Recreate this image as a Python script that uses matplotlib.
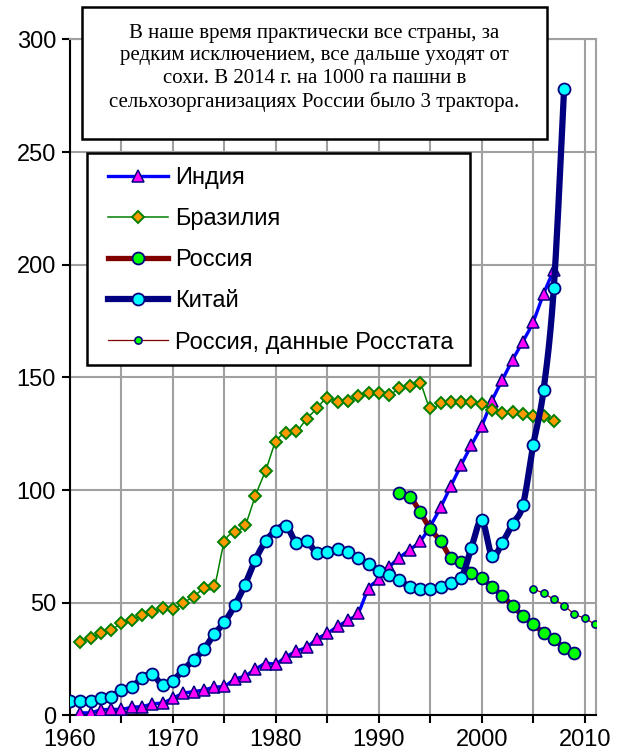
import numpy as np
import matplotlib
matplotlib.use("Agg")
import matplotlib.pyplot as plt
from matplotlib.patches import Rectangle
from matplotlib.lines import Line2D

plt.rcParams['font.family'] = ['Liberation Sans', 'DejaVu Sans']

# ---- data ----
india_years = list(range(1961, 2008))
india = [1.2, 1.2, 2.4, 2.7, 2.7, 3.6, 3.9, 5.1, 5.6, 7.6,
         9.8, 10.5, 11.3, 12.5, 13, 16, 17.5, 20.5, 23, 23,
         26, 28.5, 30.3, 34, 36.4, 39.5, 42.2, 45.6, 56.2, 60.4,
         65.8, 70, 73.5, 77.2, 84, 92.3, 101.8, 111.1, 120, 128.5,
         139.7, 148.9, 157.8, 165.9, 174.7, 187, 197.7]

brazil_years = list(range(1961, 2008))
brazil = [32.7, 34.2, 36.4, 37.9, 40.9, 42.3, 44.6, 45.8, 47.5, 47.1,
          50, 52.7, 56.4, 57.4, 76.8, 81.5, 84.5, 97.4, 108.6, 121.5,
          125.2, 126.2, 131.6, 136.3, 141, 139.2, 139.7, 141.8, 143.2, 143.2,
          142.2, 145.2, 146.2, 147.4, 136.3, 138.5, 139, 139, 139, 138.1,
          135.5, 134.4, 134.8, 133.6, 132.9, 132.9, 130.8]

russia_years = list(range(1992, 2010))
russia = [98.8, 97.1, 90.4, 82.7, 77.4, 70, 68.2, 63.3, 60.8, 57.1,
          53.1, 48.6, 44.1, 40.4, 36.7, 33.8, 30, 27.6]

china_years = list(range(1960, 2009))
china = [6.5, 6.5, 6.5, 7.6, 8.3, 11.3, 12.7, 16.5, 18.2, 13.5,
         15.4, 20.2, 24.6, 29.3, 36, 41.3, 48.8, 58, 69, 77.3,
         82, 84.1, 76.5, 77.3, 72, 72.7, 73.7, 72.7, 69.7, 67.2,
         64.2, 62.5, 60, 57.1, 56.1, 56.1, 57.1, 58.9, 60.8, 74.4,
         86.7, 70.8, 76.7, 85, 93.4, 120, 144.2, 189.6, 278]

rosstat_years = list(range(2005, 2012))
rosstat = [56.1, 54.2, 51.5, 48.7, 45, 43.1, 40.4]

labels = ["Индия", "Бразилия", "Россия", "Китай", "Россия, данные Росстата"]
note = ("В наше время практически все страны, за\n"
        "редким исключением, все дальше уходят от\n"
        "сохи. В 2014 г. на 1000 га пашни в\n"
        "сельхозорганизациях России было 3 трактора.")


def smooth(xs, ys, n=16):
    """Excel-like smoothed line (Catmull-Rom Bezier) through the data points."""
    x = np.asarray(xs, float)
    y = np.asarray(ys, float)
    px = np.concatenate([[x[0]], x, [x[-1]]])
    py = np.concatenate([[y[0]], y, [y[-1]]])
    outx, outy = [x[0]], [y[0]]
    t = np.linspace(0, 1, n + 1)[1:]
    for i in range(1, len(px) - 2):
        p0 = np.array([px[i], py[i]])
        p3 = np.array([px[i + 1], py[i + 1]])
        c1 = p0 + (np.array([px[i + 1], py[i + 1]]) - np.array([px[i - 1], py[i - 1]])) / 6
        c2 = p3 - (np.array([px[i + 2], py[i + 2]]) - np.array([px[i], py[i]])) / 6
        for tt in t:
            b = ((1 - tt) ** 3) * p0 + 3 * ((1 - tt) ** 2) * tt * c1 + 3 * (1 - tt) * tt ** 2 * c2 + tt ** 3 * p3
            outx.append(b[0])
            outy.append(b[1])
    return outx, outy


fig = plt.figure(figsize=(6.27, 7.53), dpi=100)
ax = fig.add_axes([70 / 627, 1 - 715.4 / 753, 526 / 627, 676 / 753])

ax.set_xlim(1960, 2011.1)
ax.set_ylim(0, 300)

styles = [
    # (years, values, line color, lw, marker, mfc, mec, ms, mew)
    (india_years, india, '#0000FF', 2.4, '^', '#FF00FF', '#000080', 9.3, 1.1),
    (brazil_years, brazil, '#008000', 1.1, 'D', '#FF9900', '#008000', 6.3, 1.4),
    (russia_years, russia, '#800000', 3.8, 'o', '#00FF00', '#000080', 8.6, 1.3),
    (china_years, china, '#000080', 4.5, 'o', '#00FFFF', '#000080', 8.6, 1.3),
    (rosstat_years, rosstat, '#800000', 0.9, 'o', '#00FF00', '#000080', 5.2, 1.1),
]

handles = []
for i, (xs, ys, c, lw, mk, mfc, mec, ms, mew) in enumerate(styles):
    z = 3 + i
    sx, sy = smooth(xs, ys)
    ax.plot(sx, sy, color=c, lw=lw, solid_capstyle='round', solid_joinstyle='round', zorder=z)
    ax.plot(xs, ys, ls='none', marker=mk, mfc=mfc, mec=mec, ms=ms, mew=mew, zorder=z)
    handles.append(Line2D([], [], color=c, lw=lw, marker=mk, mfc=mfc, mec=mec, ms=ms, mew=mew))

# grid & axes
ax.set_xticks(range(1960, 2011, 5))
ax.set_xticklabels([str(y) if y % 10 == 0 else '' for y in range(1960, 2011, 5)])
ax.set_yticks(range(0, 301, 50))
ax.grid(True, color='#A0A0A0', lw=1.5, zorder=0)
ax.set_axisbelow(True)
for s in ['top', 'right']:
    ax.spines[s].set_color('#A0A0A0')
    ax.spines[s].set_linewidth(1.5)
for s in ['left', 'bottom']:
    ax.spines[s].set_color('black')
    ax.spines[s].set_linewidth(1.5)
ax.tick_params(axis='both', direction='out', length=6, width=1.5, color='black',
               labelsize=17, pad=4)

# legend box drawn as a rectangle, legend entries frameless inside it
lbox = Rectangle((0.0323, 0.5183), 0.7282, 0.3137, transform=ax.transAxes,
                 facecolor='white', edgecolor='black', lw=1.8, zorder=19)
ax.add_patch(lbox)
leg = ax.legend(handles, labels, loc='upper left', bbox_to_anchor=(0.0722, 0.8112),
                borderaxespad=0, frameon=False, fontsize=17,
                handlelength=2.55, handletextpad=0.3, labelspacing=0.81,
                borderpad=0)
leg.set_zorder(20)

# note box
rect = Rectangle((82 / 627, 1 - 139 / 753), 465 / 627, 132 / 753, transform=fig.transFigure,
                 facecolor='white', edgecolor='black', lw=1.8, zorder=30)
fig.add_artist(rect)
fig.text(314.5 / 627, 1 - 68 / 753, note, ha='center', va='center',
         family=['Liberation Serif', 'DejaVu Serif'], fontsize=15, linespacing=1.25, zorder=31)

fig.savefig('out.png', dpi=100)
